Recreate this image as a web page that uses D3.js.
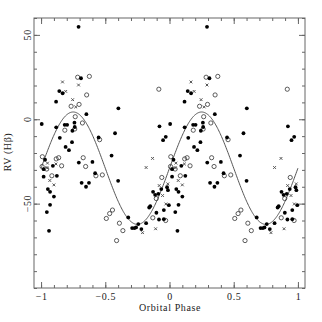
<!DOCTYPE html>
<html>
<head>
<meta charset="utf-8">
<title>RV Hbeta</title>
<script src="https://cdn.jsdelivr.net/npm/d3@7"></script>
<style>
body { margin: 0; background: #fff; }
text { font-family: "Liberation Serif", "DejaVu Serif", serif; font-size: 10px; fill: #222; letter-spacing: 0.6px; }
.frame { fill: none; stroke: #666; stroke-width: 1; }
.tick line { stroke: #666; }
.domain { display: none; }
</style>
</head>
<body>
<svg width="322" height="322"></svg>
<script>

// one orbital cycle [phase, RV]; every point is drawn at phase and phase - 1
var filled = [
  [0.292, 54.8], [0.311, 24.3], [0.142, 16.7], [0.168, 15.4], [0.117, 10.4],
  [0.602, 6.5], [0.353, 3.0], [0.005, -2.8], [0.118, -4.8], [0.922, -4.2],
  [0.184, -3.3], [0.203, -3.3], [0.260, -2.0], [0.262, -4.6], [0.244, -6.8],
  [0.448, -10.8], [0.576, -8.3], [0.146, -11.0], [0.241, -13.6], [0.191, -16.4],
  [0.217, -18.3], [0.971, -10.4], [0.950, -12.4], [0.549, -21.5], [0.031, -24.0],
  [0.294, -25.7], [0.400, -25.3], [0.316, -37.7], [0.350, -40.0], [0.373, -37.7],
  [0.421, -32.0], [0.020, -29.6], [0.092, -27.6], [0.020, -34.0], [0.123, -33.5],
  [0.053, -41.4], [0.070, -43.0], [0.100, -45.8], [0.070, -50.7], [0.045, -55.0],
  [0.062, -66.1], [0.600, -36.5], [0.679, -58.2], [0.709, -64.5], [0.727, -64.5],
  [0.740, -64.1], [0.757, -62.1], [0.781, -65.1], [0.818, -61.6], [0.842, -52.3],
  [0.850, -51.5], [0.872, -43.0], [0.888, -44.8], [0.913, -44.2], [0.936, -41.4],
  [0.898, -55.4], [0.918, -59.4], [0.956, -53.8], [0.956, -59.2], [0.981, -40.3],
  [0.988, -42.0], [0.995, -50.9]
];

var open = [
  [0.285, 24.9], [0.376, 25.4], [0.917, 17.8], [0.355, 14.4], [0.234, 7.7],
  [0.296, 8.8], [0.266, 1.5], [0.322, -2.2], [0.185, -6.5], [0.262, -5.8],
  [0.456, -12.1], [0.010, -22.2], [0.118, -23.5], [0.137, -22.8], [0.328, -22.8],
  [0.347, -28.0], [0.427, -33.5], [0.477, -33.0], [0.008, -28.0], [0.044, -29.5],
  [0.160, -27.6], [0.084, -33.5], [0.508, -58.8], [0.534, -55.9], [0.556, -53.8],
  [0.610, -61.6], [0.637, -66.0], [0.588, -71.9], [0.870, -58.4], [0.897, -47.0],
  [0.940, -34.5], [0.970, -60.0]
];

var crosses = [
  [0.167, 22.1], [0.292, 20.3], [0.192, 16.5], [0.246, 11.6], [0.270, 7.3],
  [0.868, -23.2], [0.818, -28.6], [0.050, -26.0], [0.116, -26.5], [0.045, -28.8],
  [0.068, -36.3], [0.100, -38.9], [0.790, -67.2], [0.892, -64.9], [0.920, -39.3],
  [0.946, -45.2], [0.972, -50.2], [0.987, -38.3]
];

var xMajor = [-1, -0.5, 0, 0.5, 1];
var yMajor = [-50, 0, 50];

// sine fit: RV = gamma + K sin(2 pi (phase - phi0))
var gamma = -29, K = 33.3, phi0 = 0;

var svg = d3.select("svg");
var x = d3.scaleLinear().domain([-1.055, 1.055]).range([34, 305]);
var y = d3.scaleLinear().domain([-100, 60]).range([288, 18]);

var xMinor = d3.range(-10, 11).map(function(d) { return d / 10; });
var yMinor = d3.range(-100, 61, 10);
var fmt = d3.format("");

function fold(data) {
  var out = [];
  data.forEach(function(d) {
    out.push([d[0], d[1]]);
    out.push([d[0] - 1, d[1]]);
  });
  return out;
}

// ticks on all four sides, pointing inwards
svg.append("g").attr("transform", "translate(0,288)")
  .call(d3.axisBottom(x).tickValues(xMinor).tickSize(-3).tickFormat(""));
svg.append("g").attr("transform", "translate(0,288)")
  .call(d3.axisBottom(x).tickValues(xMajor).tickSize(-6).tickPadding(5).tickFormat(fmt))
  .call(function(g) { g.selectAll("text").attr("font-size", 10).attr("font-family", null).attr("fill", null); });
svg.append("g").attr("transform", "translate(0,18)")
  .call(d3.axisTop(x).tickValues(xMinor).tickSize(-3).tickFormat(""));
svg.append("g").attr("transform", "translate(0,18)")
  .call(d3.axisTop(x).tickValues(xMajor).tickSize(-6).tickFormat(""));

svg.append("g").attr("transform", "translate(34,0)")
  .call(d3.axisLeft(y).tickValues(yMinor).tickSize(-3).tickFormat(""));
svg.append("g").attr("transform", "translate(34,0)")
  .call(d3.axisLeft(y).tickValues(yMajor).tickSize(-6).tickFormat(""));
svg.append("g").attr("transform", "translate(305,0)")
  .call(d3.axisRight(y).tickValues(yMinor).tickSize(-3).tickFormat(""));
svg.append("g").attr("transform", "translate(305,0)")
  .call(d3.axisRight(y).tickValues(yMajor).tickSize(-6).tickFormat(""));

// rotated y tick labels
svg.append("g").selectAll("text")
  .data(yMajor)
  .enter().append("text")
    .attr("transform", function(d) { return "translate(31," + y(d) + ") rotate(-90)"; })
    .attr("text-anchor", "middle")
    .text(fmt);

svg.append("rect").attr("class", "frame")
  .attr("x", 34).attr("y", 18).attr("width", 271).attr("height", 270);

// fitted curve
var curve = d3.range(-1, 1.0001, 0.005).map(function(p) {
  return [p, gamma + K * Math.sin(2 * Math.PI * (p - phi0))];
});
svg.append("path")
  .datum(curve)
  .attr("fill", "none")
  .attr("stroke", "#555")
  .attr("stroke-width", 1)
  .attr("d", d3.line().x(function(d) { return x(d[0]); }).y(function(d) { return y(d[1]); }));

// points
svg.append("g").selectAll("circle")
  .data(fold(open))
  .enter().append("circle")
    .attr("cx", function(d) { return x(d[0]); })
    .attr("cy", function(d) { return y(d[1]); })
    .attr("r", 2.1)
    .attr("fill", "none")
    .attr("stroke", "#333")
    .attr("stroke-width", 0.8);

svg.append("g").selectAll("path")
  .data(fold(crosses))
  .enter().append("path")
    .attr("transform", function(d) { return "translate(" + x(d[0]) + "," + y(d[1]) + ")"; })
    .attr("d", d3.symbol().type(d3.symbolTimes).size(6))
    .attr("fill", "none")
    .attr("stroke", "#555")
    .attr("stroke-width", 1);

svg.append("g").selectAll("circle")
  .data(fold(filled))
  .enter().append("circle")
    .attr("cx", function(d) { return x(d[0]); })
    .attr("cy", function(d) { return y(d[1]); })
    .attr("r", 1.9)
    .attr("fill", "#000");

// axis titles
svg.append("text")
  .attr("x", 170).attr("y", 311)
  .attr("text-anchor", "middle")
  .text("Orbital Phase");

svg.append("text")
  .attr("transform", "translate(10.5,152) rotate(-90)")
  .attr("text-anchor", "middle")
  .text("RV (H\u03b2)");

</script>
</body>
</html>
